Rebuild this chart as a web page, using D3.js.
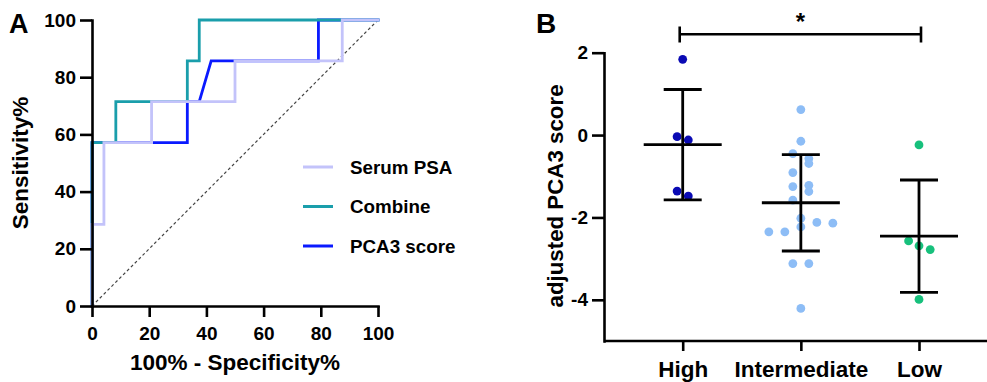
<!DOCTYPE html>
<html><head><meta charset="utf-8">
<script src="https://cdn.jsdelivr.net/npm/d3@7"></script>
<style>
html,body{margin:0;padding:0;background:#fff;}
svg{display:block;font-family:"Liberation Sans",Arial,Helvetica,sans-serif;font-weight:bold;}
</style></head><body>
<svg id="chart" width="987" height="382"></svg>
<script>
// ---------- Panel A data (ROC curves) ----------
const rocTicks = [0, 20, 40, 60, 80, 100];
const rocNames = ["Serum PSA", "Combine", "PCA3 score"];
const serumFpr = [0, 0, 4.17, 4.17, 20.83, 20.83, 50, 50, 87.5, 87.5, 100];
const serumTpr = [0, 28.57, 28.57, 57.14, 57.14, 71.43, 71.43, 85.71, 85.71, 100, 100];
const combineFpr = [0, 0, 8.33, 8.33, 33.33, 33.33, 37.5, 37.5, 100];
const combineTpr = [0, 57.14, 57.14, 71.43, 71.43, 85.71, 85.71, 100, 100];
const pca3Fpr = [0, 0, 33.33, 33.33, 37.5, 41.67, 79.17, 79.17, 100];
const pca3Tpr = [0, 57.14, 57.14, 71.43, 71.43, 85.71, 85.71, 100, 100];

// ---------- Panel B data (adjusted PCA3 score) ----------
const groups = ["High", "Intermediate", "Low"];
const scoreTicks = [-4, -2, 0, 2];
const highScores = [1.84, -0.04, -0.12, -1.36, -1.48];
const intermediateScores = [0.62, -0.15, -0.45, -0.57, -0.69, -0.91, -1.25, -1.22, -1.37, -1.58,
  -2.02, -2.12, -2.14, -2.23, -2.35, -2.35, -3.12, -3.12, -4.21];
const lowScores = [-0.24, -2.57, -2.69, -2.78, -3.99];
// horizontal spread of dots within a column (scatter layout, unitless)
const highSpread = [0, -0.7, 0.7, -0.7, 0.7];
const intermediateSpread = [0, 0, -1, 1, 1, -1, -1, 1, 1, -1, 0, 2, 4, 0, -4, -2, -1, 1, 0];
const lowSpread = [0, -1.3, 0, 1.4, 0];
const significanceLabel = "*";

// ---------- drawing ----------
const svg = d3.select("#chart");
const AX_W = 2.6;
const plainNum = d => String(d);

function styleAxis(g, fontSize) {
  g.selectAll(".domain").attr("stroke", "#000").attr("stroke-width", AX_W).attr("stroke-linecap", "square");
  g.selectAll(".tick line").attr("stroke", "#000").attr("stroke-width", AX_W);
  g.selectAll(".tick text").attr("fill", "#000").attr("font-size", fontSize)
    .attr("font-weight", "bold").attr("font-family", "'Liberation Sans',Arial,sans-serif");
}

// ===== Panel A =====
const xA = d3.scaleLinear().domain([0, 100]).range([92, 378]);
const yA = d3.scaleLinear().domain([0, 100]).range([306, 20]);

const gA = svg.append("g");
// diagonal reference
gA.append("line")
  .attr("x1", xA(0)).attr("y1", yA(0)).attr("x2", xA(100)).attr("y2", yA(100))
  .attr("stroke", "#444").attr("stroke-width", 1.2).attr("stroke-dasharray", "3,2.5");

const rocColors = { "Serum PSA": "#c3c3fa", "Combine": "#1a9eab", "PCA3 score": "#0a1aff" };
const rocSeries = [
  { name: "PCA3 score", pts: d3.zip(pca3Fpr, pca3Tpr) },
  { name: "Combine", pts: d3.zip(combineFpr, combineTpr) },
  { name: "Serum PSA", pts: d3.zip(serumFpr, serumTpr) }
];
const rocLine = d3.line().x(d => xA(d[0])).y(d => yA(d[1]));
gA.selectAll("path.roc").data(rocSeries).join("path")
  .attr("class", "roc")
  .attr("d", d => rocLine(d.pts))
  .attr("fill", "none")
  .attr("stroke", d => rocColors[d.name])
  .attr("stroke-width", 2.8)
  .attr("stroke-linejoin", "miter")
  .attr("stroke-linecap", "square");

// axes A
const axYA = gA.append("g").attr("transform", `translate(${xA(0)},0)`)
  .call(d3.axisLeft(yA).tickValues(rocTicks).tickFormat(plainNum).tickSize(12).tickPadding(4).tickSizeOuter(0));
styleAxis(axYA, 19);
const axXA = gA.append("g").attr("transform", `translate(0,${yA(0)})`)
  .call(d3.axisBottom(xA).tickValues(rocTicks).tickFormat(plainNum).tickSize(11).tickPadding(10).tickSizeOuter(0));
styleAxis(axXA, 19);

// legend A
const legA = gA.append("g");
const legY = d3.scalePoint().domain(rocNames).range([167, 246]);
rocNames.forEach(n => {
  legA.append("line").attr("x1", 303).attr("x2", 333).attr("y1", legY(n)).attr("y2", legY(n))
    .attr("stroke", rocColors[n]).attr("stroke-width", 3);
  legA.append("text").attr("x", 350).attr("y", legY(n)).attr("dy", "0.36em")
    .attr("font-size", 18.8).attr("fill", "#000").text(n);
});

// titles A
gA.append("text").attr("x", 235).attr("y", 370).attr("text-anchor", "middle")
  .attr("font-size", 22.5).attr("fill", "#000").text("100% - Specificity%");
gA.append("text").attr("transform", "translate(28,163) rotate(-90)").attr("text-anchor", "middle")
  .attr("font-size", 22.5).attr("fill", "#000").text("Sensitivity%");
gA.append("text").attr("x", 9).attr("y", 33).attr("font-size", 27).attr("fill", "#000").text("A");

// ===== Panel B =====
const xB = d3.scalePoint().domain(groups).range([682.7, 919]);
const yB = d3.scaleLinear().domain([-5, 2]).range([341, 52.7]);
const spreadScale = d3.scaleLinear().domain([-1, 1]).range([-8, 8]);
const gB = svg.append("g");

const groupData = [
  { name: "High", vals: highScores, spread: highSpread, color: "#0a0ab4" },
  { name: "Intermediate", vals: intermediateScores, spread: intermediateSpread, color: "#8dbdf6" },
  { name: "Low", vals: lowScores, spread: lowSpread, color: "#17c07c" }
];

groupData.forEach(gd => {
  const pts = gd.vals.map((v, i) => ({ v, s: gd.spread[i] }));
  gB.append("g").selectAll("circle").data(pts).join("circle")
    .attr("cx", d => xB(gd.name) + spreadScale(d.s))
    .attr("cy", d => yB(d.v))
    .attr("r", 4.4)
    .attr("fill", gd.color);
});

// mean ± SD
groupData.forEach(gd => {
  const m = d3.mean(gd.vals), sd = d3.deviation(gd.vals);
  const cx = xB(gd.name);
  const eb = gB.append("g").attr("stroke", "#000").attr("stroke-width", 2.8);
  eb.append("line").attr("x1", cx).attr("x2", cx).attr("y1", yB(m + sd)).attr("y2", yB(m - sd));
  eb.append("line").attr("x1", cx - 19).attr("x2", cx + 19).attr("y1", yB(m + sd)).attr("y2", yB(m + sd));
  eb.append("line").attr("x1", cx - 19).attr("x2", cx + 19).attr("y1", yB(m - sd)).attr("y2", yB(m - sd));
  eb.append("line").attr("x1", cx - 39).attr("x2", cx + 39).attr("y1", yB(m)).attr("y2", yB(m));
});

// axes B
const axYB = gB.append("g").attr("transform", "translate(604,0)")
  .call(d3.axisLeft(yB).tickValues(scoreTicks).tickFormat(plainNum).tickSize(12).tickPadding(4).tickSizeOuter(0));
styleAxis(axYB, 19);
const axXB = gB.append("g").attr("transform", `translate(0,${yB(-5)})`)
  .call(d3.axisBottom(xB).tickSize(10).tickPadding(10).tickSizeOuter(0));
axXB.select(".domain").remove();
styleAxis(axXB, 22.5);
gB.append("line").attr("x1", 604).attr("x2", 987).attr("y1", yB(-5)).attr("y2", yB(-5))
  .attr("stroke", "#000").attr("stroke-width", AX_W);

// significance bracket
const br = gB.append("g").attr("stroke", "#000").attr("stroke-width", 2.6);
const bx1 = xB("High") - 3, bx2 = xB("Low") + 2;
br.append("line").attr("x1", bx1).attr("x2", bx2).attr("y1", 34.3).attr("y2", 34.3);
br.append("line").attr("x1", bx1).attr("x2", bx1).attr("y1", 26.5).attr("y2", 42.5);
br.append("line").attr("x1", bx2).attr("x2", bx2).attr("y1", 26.5).attr("y2", 42.5);
gB.append("text").attr("x", (bx1 + bx2) / 2).attr("y", 30).attr("text-anchor", "middle")
  .attr("font-size", 24).attr("fill", "#000").text(significanceLabel);

// titles B
gB.append("text").attr("transform", "translate(563,196) rotate(-90)").attr("text-anchor", "middle")
  .attr("font-size", 22.3).attr("fill", "#000").text("adjusted PCA3 score");
gB.append("text").attr("x", 536).attr("y", 33).attr("font-size", 28).attr("fill", "#000").text("B");
</script>
</body></html>
